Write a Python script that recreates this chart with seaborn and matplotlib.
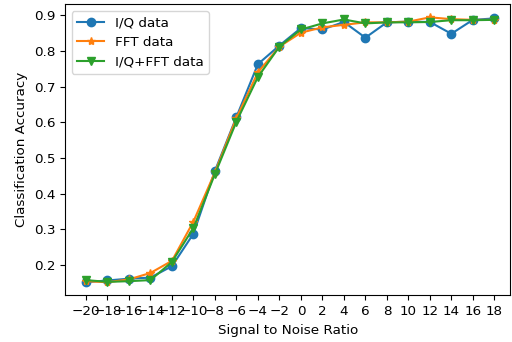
import matplotlib
matplotlib.use("Agg")
import matplotlib.pyplot as plt
import seaborn as sns
import pandas as pd

snr = [-20, -18, -16, -14, -12, -10, -8, -6, -4, -2, 0, 2, 4, 6, 8, 10, 12, 14, 16, 18]
iq = [0.152, 0.157, 0.162, 0.165, 0.197, 0.288, 0.464, 0.615, 0.763, 0.815, 0.864, 0.860, 0.881, 0.837, 0.880, 0.882, 0.881, 0.848, 0.887, 0.891]
fft = [0.155, 0.152, 0.160, 0.178, 0.212, 0.322, 0.460, 0.612, 0.740, 0.812, 0.851, 0.866, 0.873, 0.880, 0.880, 0.882, 0.894, 0.889, 0.887, 0.887]
iqfft = [0.158, 0.153, 0.155, 0.158, 0.209, 0.304, 0.455, 0.602, 0.727, 0.812, 0.860, 0.877, 0.888, 0.877, 0.880, 0.880, 0.881, 0.886, 0.886, 0.887]
labels = ["I/Q data", "FFT data", "I/Q+FFT data"]

df = pd.DataFrame({
    "snr": snr * 3,
    "acc": iq + fft + iqfft,
    "series": [labels[0]] * len(snr) + [labels[1]] * len(snr) + [labels[2]] * len(snr),
})

plt.rcParams["font.family"] = ["DejaVu Sans"]
fs = 9.7
fig, ax = plt.subplots(figsize=(5.12, 3.42), dpi=100)
sns.lineplot(data=df, x="snr", y="acc", hue="series", style="series",
             markers={labels[0]: "o", labels[1]: "*", labels[2]: "v"},
             dashes=False, palette=["#1f77b4", "#ff7f0e", "#2ca02c"],
             markersize=6, markeredgewidth=1, linewidth=1.5, ax=ax)
for ln in ax.lines:
    ln.set_markeredgecolor(ln.get_color())
ax.set_xticks(snr)
ax.set_xlim(-21.95, 19.5)
ax.set_xlabel("Signal to Noise Ratio", fontsize=fs)
ax.set_ylabel("Classification Accuracy", fontsize=fs)
ax.tick_params(labelsize=fs)
leg = ax.legend(loc="upper left", fontsize=fs, title=None)
for ln in leg.get_lines():
    ln.set_markeredgecolor(ln.get_color())
fig.subplots_adjust(left=0.127, right=0.997, top=0.988, bottom=0.136)
fig.savefig("out.png", dpi=100)
